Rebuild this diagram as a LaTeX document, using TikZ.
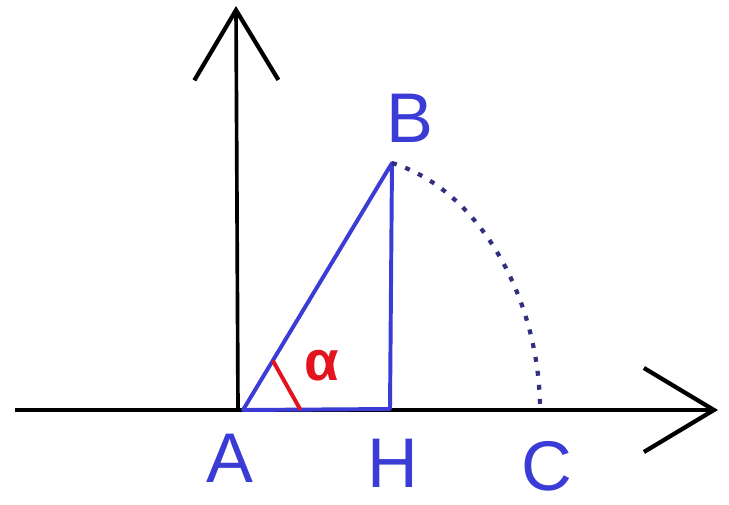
\documentclass[tikz,border=0pt]{standalone}
\usepackage{fontspec}
\setsansfont{Liberation Sans}
\usepackage{tikz}
\usetikzlibrary{arrows.meta,calc}
\definecolor{Pen}{HTML}{3B3BD6}
\definecolor{PenRed}{HTML}{E3141E}
\definecolor{Navy}{HTML}{30307E}

\begin{document}
\begin{tikzpicture}[x=0.025cm,y=-0.025cm,font=\sffamily]
  \useasboundingbox (0,0) rectangle (729,505);
  \tikzset{
    axis/.style={line width=2.6pt,black,-{Straight Barb[length=1.75cm,width=2.1cm,line width=3pt]}},
    side/.style={line width=2.8pt,Pen,line cap=round,line join=round},
    lbl/.style={Pen,font=\sffamily\fontsize{50}{50}\selectfont,inner sep=0pt}
  }
  % points
  \coordinate (O) at (238,410);
  \coordinate (xl) at (15,410);
  \coordinate (xr) at (718,410);
  \coordinate (yt) at (236,6);
  \coordinate (A) at (243,410);
  \coordinate (B) at (392,163);
  \coordinate (H) at (390,409);
  \coordinate (C) at (540,410);
  % axes
  \draw[axis] (xl) -- (xr);
  \draw[axis] (O) -- (yt);
  % triangle
  \draw[side] (H) -- (A) -- (B) -- (H);
  % arc from B down to C
  \draw[Navy,line width=3pt,dash pattern=on 3.5pt off 6.5pt]
    (B) .. controls (480,190) and (540,300) .. (C);
  % angle mark
  \draw[PenRed,line width=2.8pt] ($(A)!0.2!(B)$) -- ($(A)!0.39!(H)$);
  \node[PenRed,font=\sffamily\bfseries\fontsize{40}{40}\selectfont] (alpha) at (322,366) {α};
  % labels
  \node[lbl] (lblB) at (410,118) {B};
  \node[lbl] (lblA) at (230,458) {A};
  \node[lbl] (lblH) at (393,463) {H};
  \node[lbl] (lblC) at (547,466) {C};
\end{tikzpicture}
\end{document}
